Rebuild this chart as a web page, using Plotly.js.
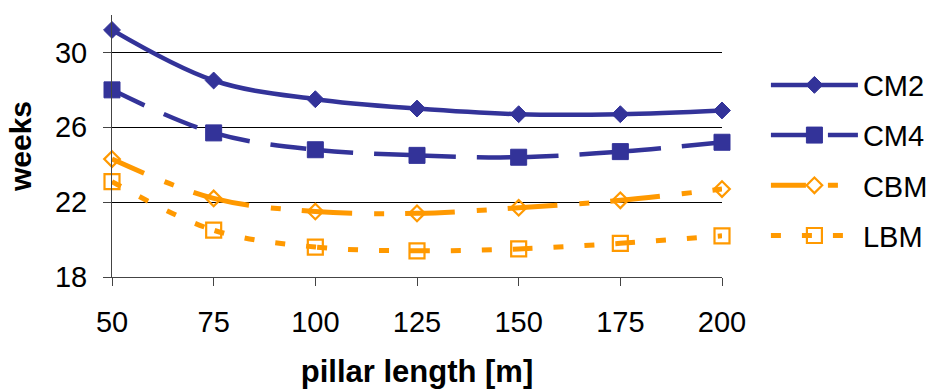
<!DOCTYPE html>
<html>
<head>
<meta charset="utf-8">
<script src="https://cdn.plot.ly/plotly-3.0.1.min.js"></script>
<style>html,body{margin:0;padding:0;background:#fff;}#chart{width:932px;height:389px;}</style>
</head>
<body>
<div id="chart"></div>
<script>
// ---- data ----
const pillarLength = [50, 75, 100, 125, 150, 175, 200];
const cm2 = [31.2, 28.5, 27.5, 27.0, 26.7, 26.7, 26.9];
const cm4 = [28.0, 25.7, 24.8, 24.5, 24.4, 24.7, 25.2];
const cbm = [24.3, 22.2, 21.5, 21.4, 21.7, 22.1, 22.7];
const lbm = [23.1, 20.5, 19.6, 19.4, 19.5, 19.8, 20.2];
const seriesNames = ['CM2', 'CM4', 'CBM', 'LBM'];
const yTicks = [18, 22, 26, 30];

// ---- layout constants ----
const W = 932, H = 389;
const M = {l: 112, r: 210, t: 15, b: 112, autoexpand: false};
const xRange = [50, 200], yRange = [18, 32];
const NAVY = '#333399', ORANGE = '#FF9900';
const FONT = 'Arial, "Liberation Sans", Helvetica, sans-serif';

// Dash pattern that restarts at every data point (as the original chart does)
function segmentDash(xs, ys, pattern) {
  const pw = W - M.l - M.r, ph = H - M.t - M.b;
  const sx = pw / (xRange[1] - xRange[0]), sy = ph / (yRange[1] - yRange[0]);
  const out = [];
  let lastOn = null;
  function add(len, on) {
    if (out.length === 0 && !on) { out.push(0); lastOn = true; }
    if (lastOn === on) out[out.length - 1] += len;
    else { out.push(len); lastOn = on; }
  }
  for (let i = 0; i < xs.length - 1; i++) {
    const L = Math.hypot((xs[i + 1] - xs[i]) * sx, (ys[i + 1] - ys[i]) * sy) * 1.01;
    let pos = 0, k = 0;
    while (pos < L - 1e-6) {
      const len = Math.min(pattern[k % pattern.length], L - pos);
      add(len, k % 2 === 0);
      pos += len; k++;
    }
  }
  add(200, false);
  return out.map(v => v.toFixed(1) + 'px').join(',');
}

const traces = [
  {name: seriesNames[0], y: cm2, color: NAVY, width: 4.5, dash: 'solid',
   marker: {symbol: 'diamond', size: 13, color: NAVY, line: {color: NAVY, width: 1}}},
  {name: seriesNames[1], y: cm4, color: NAVY, width: 4.5, dash: segmentDash(pillarLength, cm4, [36, 21]),
   marker: {symbol: 'square', size: 16, color: NAVY, line: {color: NAVY, width: 1}}},
  {name: seriesNames[2], y: cbm, color: ORANGE, width: 5, dash: segmentDash(pillarLength, cbm, [35, 22, 10, 21]),
   marker: {symbol: 'diamond-open', size: 12, color: ORANGE, line: {color: ORANGE, width: 2.2}}},
  {name: seriesNames[3], y: lbm, color: ORANGE, width: 5, dash: segmentDash(pillarLength, lbm, [10, 21]),
   marker: {symbol: 'square-open', size: 15, color: ORANGE, line: {color: ORANGE, width: 2.2}}}
].map((s, i) => ({
  type: 'scatter', mode: 'lines+markers', name: s.name, legendgroup: 'g' + i,
  x: pillarLength, y: s.y, cliponaxis: false,
  line: {color: s.color, width: s.width, dash: s.dash, shape: 'spline', smoothing: 1},
  marker: s.marker
}));

const layout = {
  width: W, height: H,
  margin: M,
  paper_bgcolor: '#fff', plot_bgcolor: '#fff',
  font: {family: FONT, color: '#000', size: 29},
  showlegend: true,
  legend: {x: 1.072, xanchor: 'left', y: 0.83, yanchor: 'top',
           font: {family: FONT, size: 29, color: '#000'},
           tracegroupgap: 9.5, itemwidth: 87, bgcolor: 'rgba(0,0,0,0)'},
  xaxis: {
    range: xRange, tickvals: pillarLength, ticktext: pillarLength.map(String),
    showline: true, linecolor: '#444', linewidth: 1,
    ticks: 'outside', ticklen: 8, tickcolor: '#444', tickwidth: 1,
    ticklabelstandoff: 11,
    showgrid: false, zeroline: false,
    tickfont: {family: FONT, size: 29, color: '#000'},
    title: {text: '<b>pillar length [m]</b>', font: {family: FONT, size: 31, color: '#000'}, standoff: 24}
  },
  yaxis: {
    range: yRange, tickvals: yTicks, ticktext: yTicks.map(String),
    showline: true, linecolor: '#444', linewidth: 1,
    ticks: 'outside', ticklen: 8, tickcolor: '#444', tickwidth: 1,
    ticklabelstandoff: 10,
    showgrid: true, gridcolor: '#000', gridwidth: 1, zeroline: false,
    tickfont: {family: FONT, size: 29, color: '#000'},
    title: {text: '<b>weeks</b>', font: {family: FONT, size: 30, color: '#000'}, standoff: 14}
  }
};

Plotly.newPlot('chart', traces, layout, {displayModeBar: false, staticPlot: true});
</script>
</body>
</html>
